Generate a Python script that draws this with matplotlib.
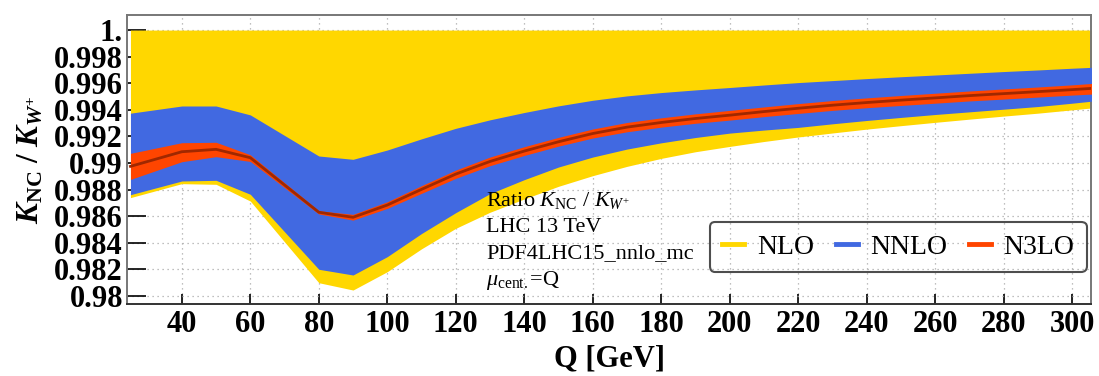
import matplotlib
matplotlib.use("Agg")
import matplotlib.pyplot as plt
from matplotlib.lines import Line2D

plt.rcParams['font.family'] = ['Liberation Serif', 'DejaVu Serif']
plt.rcParams['mathtext.fontset'] = 'custom'
plt.rcParams['mathtext.rm'] = 'Liberation Serif'
plt.rcParams['mathtext.it'] = 'Liberation Serif:italic'
plt.rcParams['mathtext.bf'] = 'Liberation Serif:bold'
plt.rcParams['mathtext.bfit'] = 'Liberation Serif:italic:bold'

# scale Q in GeV
Q = [25, 40, 50, 60, 80, 90, 100, 110, 120, 130, 140, 150, 160, 170, 180, 190, 200,
     210, 220, 230, 240, 250, 260, 270, 280, 290, 300, 306]

# NLO band (upper edge sits at 1)
nlo_lo = [0.98740, 0.98845, 0.98840, 0.98714, 0.98100, 0.98045, 0.98183, 0.98355, 0.98509, 0.98630,
          0.98730, 0.98825, 0.98905, 0.98975, 0.99035, 0.99085, 0.99125, 0.99162, 0.99196, 0.99226,
          0.99255, 0.99281, 0.99306, 0.99330, 0.99353, 0.99375, 0.99400, 0.99415]
nlo_hi = [1.0] * len(Q)

# NNLO band
nnlo_lo = [0.98762, 0.98865, 0.98870, 0.98765, 0.98201, 0.98158, 0.98296, 0.98470, 0.98627, 0.98770,
           0.98875, 0.98970, 0.99045, 0.99105, 0.99152, 0.99192, 0.99225, 0.99248, 0.99268, 0.99295,
           0.99320, 0.99343, 0.99365, 0.99385, 0.99405, 0.99425, 0.99450, 0.99466]
nnlo_hi = [0.99375, 0.99429, 0.99429, 0.99362, 0.99053, 0.99028, 0.99098, 0.99182, 0.99261, 0.99325,
           0.99380, 0.99430, 0.99472, 0.99505, 0.99530, 0.99550, 0.99568, 0.99587, 0.99605, 0.99620,
           0.99635, 0.99649, 0.99662, 0.99675, 0.99688, 0.99700, 0.99713, 0.99720]

# N3LO band and central value
n3lo_c = [0.98975, 0.99085, 0.99103, 0.99040, 0.98630, 0.98592, 0.98684, 0.98802, 0.98917, 0.99012,
          0.99090, 0.99160, 0.99222, 0.99270, 0.99305, 0.99335, 0.99360, 0.99387, 0.99412, 0.99435,
          0.99455, 0.99473, 0.99490, 0.99507, 0.99522, 0.99537, 0.99552, 0.99562]
n3lo_lo = [0.98877, 0.99010, 0.99048, 0.99012, 0.98617, 0.98571, 0.98659, 0.98772, 0.98885, 0.98980,
           0.99057, 0.99127, 0.99188, 0.99235, 0.99270, 0.99299, 0.99323, 0.99349, 0.99373, 0.99396,
           0.99416, 0.99433, 0.99450, 0.99467, 0.99481, 0.99496, 0.99511, 0.99519]
n3lo_hi = [0.99073, 0.99153, 0.99156, 0.99062, 0.98641, 0.98614, 0.98709, 0.98830, 0.98947, 0.99045,
           0.99123, 0.99193, 0.99256, 0.99305, 0.99340, 0.99370, 0.99396, 0.99422, 0.99447, 0.99470,
           0.99490, 0.99508, 0.99525, 0.99542, 0.99557, 0.99572, 0.99588, 0.99599]

xticks = list(range(40, 301, 20))
yticks = [0.98, 0.982, 0.984, 0.986, 0.988, 0.99, 0.992, 0.994, 0.996, 0.998, 1.0]
ylabels = ['0.98', '0.982', '0.984', '0.986', '0.988', '0.99', '0.992', '0.994', '0.996', '0.998', '1.']

c_nlo = '#ffd700'
c_nnlo = '#4169e1'
c_n3lo = '#ff4500'
c_line = '#a02800'

fig = plt.figure(figsize=(10.99, 3.76), dpi=100)
ax = fig.add_axes([0.1156, 0.1915, 0.8771, 0.7685])

ax.fill_between(Q, nlo_lo, nlo_hi, color=c_nlo, lw=0, zorder=2)
ax.fill_between(Q, nnlo_lo, nnlo_hi, color=c_nnlo, lw=0, zorder=3)
ax.fill_between(Q, n3lo_lo, n3lo_hi, color=c_n3lo, lw=0, zorder=4)
ax.plot(Q, n3lo_c, color=c_line, lw=2.0, zorder=5)

ax.set_xlim(24, 305.5)
ax.set_ylim(0.97940, 1.00113)
ax.set_xticks(xticks)
ax.set_xticklabels([str(x) for x in xticks], fontsize=22, fontweight='bold')
ax.set_yticks(yticks)
ax.set_yticklabels(ylabels, fontsize=22, fontweight='bold')
ax.tick_params(axis='y', direction='in', length=13.5, width=1.2, color='black', pad=3)
ax.tick_params(axis='x', direction='in', length=7, width=1.2, color='black', pad=4)

ax.grid(True, ls=(0, (1, 3)), color='#aaaaaa', lw=0.9, zorder=0)
ax.set_axisbelow(True)
for s in ax.spines.values():
    s.set_color('#777777')
    s.set_linewidth(1.4)
ax.spines['bottom'].set_color('#333333')

ax.set_xlabel('Q [GeV]', fontsize=22, fontweight='bold', labelpad=4)
ax.set_ylabel(r'$\boldsymbol{K}_{\mathbf{NC}}\ \mathbf{/}\ \boldsymbol{K}_{\boldsymbol{W}^{\mathbf{+}}}$',
              fontsize=22.5, labelpad=6)

info = ['Ratio $K_{\\mathrm{NC}}$ / $K_{W^{+}}$', 'LHC 13 TeV', 'PDF4LHC15_nnlo_mc',
        r'$\mu_{\mathrm{cent.}}$=Q']
for i, t in enumerate(info):
    ax.text(0.3728, 0.357 - i * 0.0917, t, transform=ax.transAxes, fontsize=16,
            va='center', ha='left', zorder=6)

handles = [Line2D([], [], color=c_nlo, lw=3.5),
           Line2D([], [], color=c_nnlo, lw=3.5),
           Line2D([], [], color=c_n3lo, lw=3.5)]
leg = ax.legend(handles, ['NLO', 'NNLO', 'N3LO'], ncol=3, fontsize=20,
                loc='lower right', bbox_to_anchor=(0.9959, 0.1107), borderaxespad=0,
                frameon=True, handlelength=0.8, handletextpad=0.45, columnspacing=0.78,
                borderpad=0.45, fancybox=True)
leg.get_frame().set_facecolor('none')
leg.get_frame().set_edgecolor('#222222')
leg.get_frame().set_linewidth(1.5)
leg.set_zorder(7)

fig.savefig('out.png', dpi=100)
